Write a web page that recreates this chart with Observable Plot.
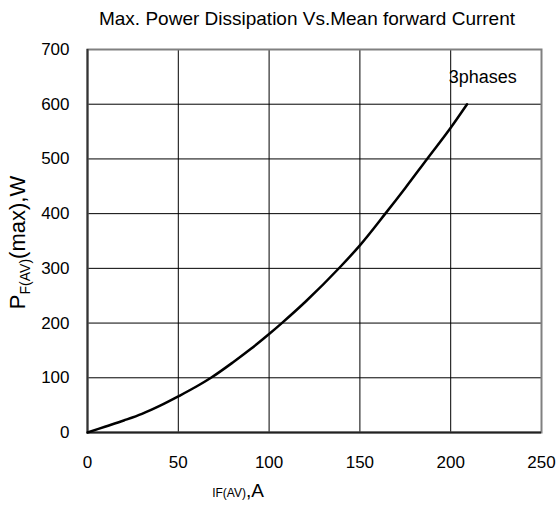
<!DOCTYPE html>
<html>
<head>
<meta charset="utf-8">
<script src="https://cdn.jsdelivr.net/npm/d3@7"></script>
<script src="https://cdn.jsdelivr.net/npm/@observablehq/plot@0.6"></script>
<style>
  body { margin: 0; background: #fff; }
  svg { font-family: "Liberation Sans", Arial, sans-serif; }
</style>
</head>
<body>
<div id="chart"></div>
<script>
const current = [0, 10, 20, 30, 40, 50, 60, 68, 80, 90, 100, 107, 120, 139, 150, 164, 175, 187, 200, 209];
const power   = [0, 11, 22, 34, 49, 66, 84, 100, 128, 153, 180, 200, 239, 302, 342, 400, 447, 500, 557, 600];
const xTicks = [0, 50, 100, 150, 200, 250];
const yTicks = [0, 100, 200, 300, 400, 500, 600, 700];
const titleText = "Max. Power Dissipation Vs.Mean forward Current";
const seriesLabel = "3phases";

const data = current.map((c, i) => ({current: c, power: power[i]}));

const W = 559, H = 506;
const mL = 87, mR = 18, mT = 49, mB = 74;

const plot = Plot.plot({
  width: W,
  height: H,
  marginLeft: mL,
  marginRight: mR,
  marginTop: mT,
  marginBottom: mB,
  style: {fontFamily: "'Liberation Sans', Arial, sans-serif", fontSize: "17px", background: "#fff", color: "#000"},
  x: {domain: [0, 250], ticks: xTicks, label: null},
  y: {domain: [0, 700], ticks: yTicks, label: null},
  marks: [
    Plot.gridX(xTicks, {stroke: "#000", strokeOpacity: 1, strokeWidth: 1}),
    Plot.gridY(yTicks, {stroke: "#000", strokeOpacity: 1, strokeWidth: 1}),
    Plot.frame({stroke: "#808080", strokeWidth: 2}),
    Plot.ruleX([0], {stroke: "#333", strokeWidth: 2}),
    Plot.ruleY([0], {stroke: "#222", strokeWidth: 2}),
    Plot.line(data, {x: "current", y: "power", stroke: "#000", strokeWidth: 2.5, curve: "monotone-x"}),
    Plot.text([seriesLabel], {x: 200, y: 650, text: d => d, textAnchor: "start", fontSize: 18, fill: "#000", dx: -2}),
    Plot.axisX({ticks: xTicks, tickSize: 0, tickPadding: 23, label: null, fontSize: 17}),
    Plot.axisY({ticks: yTicks, tickSize: 0, tickPadding: 18, label: null, fontSize: 17})
  ]
});

document.getElementById("chart").appendChild(plot);

const svg = d3.select(plot);
// Title
svg.append("text")
  .attr("x", (mL + W - mR) / 2 - 7)
  .attr("y", 25)
  .attr("text-anchor", "middle")
  .attr("font-size", 19)
  .attr("fill", "#000")
  .text(titleText);

// Y axis label with subscript
const yl = svg.append("text")
  .attr("transform", `translate(25, ${(mT + H - mB) / 2 + 2}) rotate(-90)`)
  .attr("text-anchor", "middle")
  .attr("font-size", 22)
  .attr("fill", "#000");
yl.append("tspan").text("P");
yl.append("tspan").attr("font-size", 14).attr("dy", 5).text("F(AV)");
yl.append("tspan").attr("dy", -5).text("(max),W");

// X axis label
const xl = svg.append("text")
  .attr("x", 238)
  .attr("y", 497)
  .attr("text-anchor", "middle")
  .attr("fill", "#000");
xl.append("tspan").attr("font-size", 12).text("IF(AV)");
xl.append("tspan").attr("font-size", 19).text(",A");
</script>
</body>
</html>
